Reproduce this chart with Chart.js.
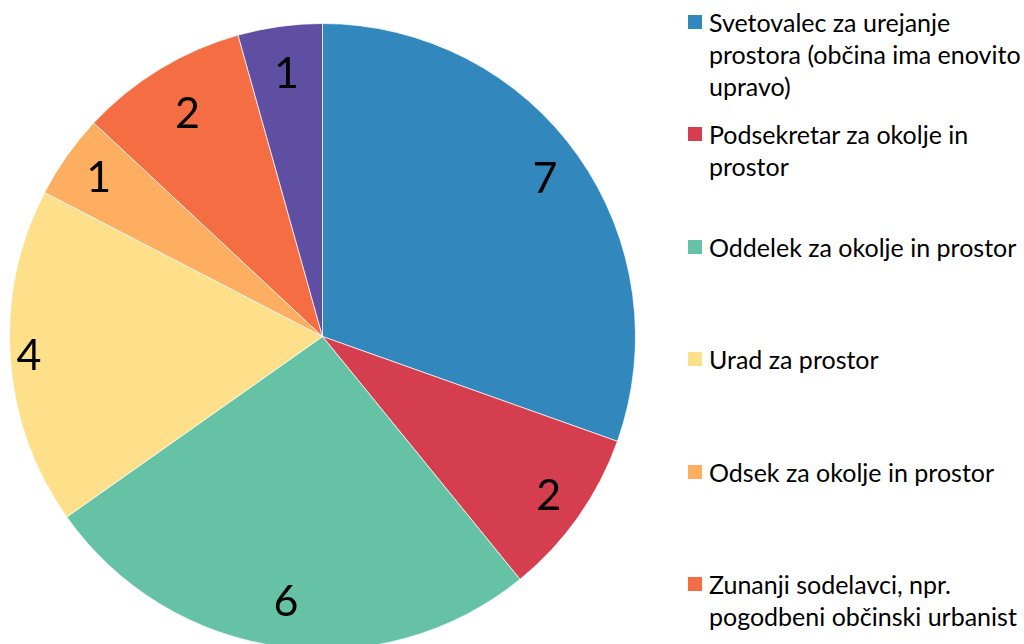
<!DOCTYPE html>
<html lang="sl">
<head>
<meta charset="UTF-8">
<title>Pie</title>
<script src="https://cdn.jsdelivr.net/npm/chart.js"></script>
<style>
    html, body {
        margin: 0;
        width: 1024px;
        height: 644px;
        overflow: hidden;
        background: #fff;
        font-family: 'Lato', sans-serif;
    }
    #pieBox {
        position: absolute;
        left: 9px;
        top: 23px;
        width: 627px;
        height: 627px;
    }
    .legend-item {
        position: absolute;
        left: 688px;
        width: 400px;
        font-size: 25px;
        line-height: 32px;
        color: #000;
        white-space: pre;
    }
    .legend-item .box {
        position: absolute;
        left: 0;
        top: 9px;
        width: 14px;
        height: 14px;
    }
    .legend-item .txt {
        margin-left: 21px;
    }
</style>
</head>
<body>
<div id="pieBox"><canvas id="pie"></canvas></div>
<div id="legend"></div>

<script>
const categories = [
    'Svetovalec za urejanje\nprostora (občina ima enovito\nupravo)',
    'Podsekretar za okolje in\nprostor',
    'Oddelek za okolje in prostor',
    'Urad za prostor',
    'Odsek za okolje in prostor',
    'Zunanji sodelavci, npr.\npogodbeni občinski urbanist',
    'Drugo'
];
const values = [7, 2, 6, 4, 1, 2, 1];
const colors = ['#3288BD', '#D53E4F', '#66C2A5', '#FEE08B', '#FDAE61', '#F46D43', '#5E4FA2'];
// how far out each number sits, as a share of the radius
const labelRadius = [0.87, 0.885, 0.856, 0.94, 0.875, 0.83, 0.846];

// legend, evenly spaced like the original
const legend = document.getElementById('legend');
categories.forEach((c, i) => {
    const item = document.createElement('div');
    item.className = 'legend-item';
    item.style.top = (6 + i * 112.4) + 'px';
    item.innerHTML = '<span class="box" style="background:' + colors[i] + '"></span><div class="txt"></div>';
    item.querySelector('.txt').textContent = c;
    legend.appendChild(item);
});

// numbers inside the slices
const sliceLabels = {
    id: 'sliceLabels',
    afterDatasetsDraw(chart) {
        const ctx = chart.ctx;
        const meta = chart.getDatasetMeta(0);
        ctx.save();
        ctx.fillStyle = '#000';
        ctx.font = '43px Lato';
        ctx.textAlign = 'center';
        ctx.textBaseline = 'middle';
        meta.data.forEach((arc, i) => {
            const p = arc.getProps(['x', 'y', 'startAngle', 'endAngle', 'outerRadius'], true);
            const a = (p.startAngle + p.endAngle) / 2;
            const r = p.outerRadius * labelRadius[i];
            ctx.fillText(String(values[i]), p.x + Math.cos(a) * r, p.y + Math.sin(a) * r);
        });
        ctx.restore();
    }
};

new Chart(document.getElementById('pie'), {
    type: 'pie',
    data: {
        labels: categories,
        datasets: [{
            data: values,
            backgroundColor: colors,
            borderColor: 'rgba(255,255,255,0.7)',
            borderWidth: 1
        }]
    },
    options: {
        responsive: true,
        maintainAspectRatio: false,
        animation: false,
        layout: { padding: 0 },
        plugins: {
            legend: { display: false },
            tooltip: { enabled: false }
        }
    },
    plugins: [sliceLabels]
});
</script>
</body>
</html>
